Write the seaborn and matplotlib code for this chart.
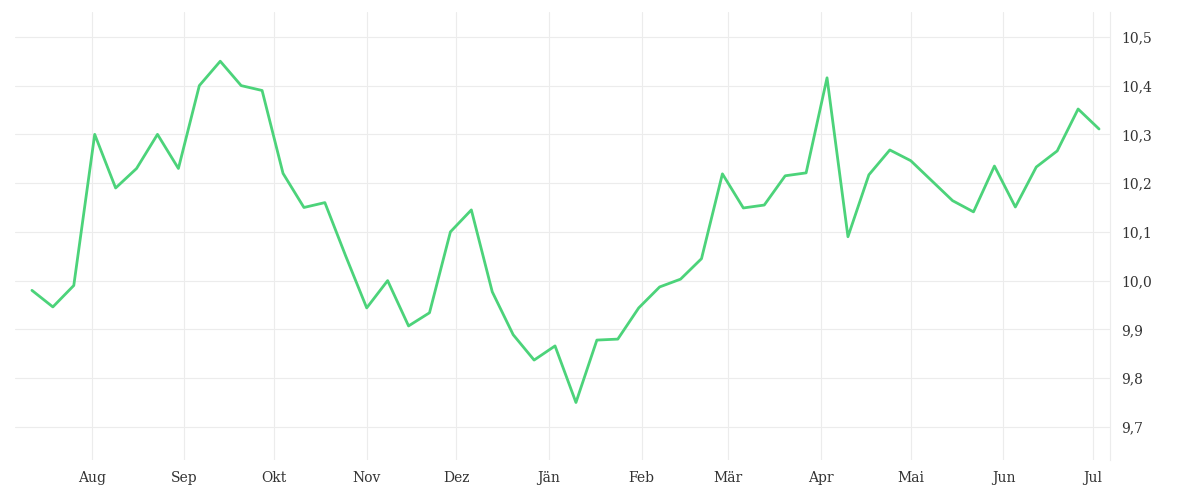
import matplotlib
matplotlib.use("Agg")
import matplotlib.pyplot as plt
import matplotlib.dates as mdates
import seaborn as sns
import pandas as pd

values = [9.98, 9.946, 9.99, 10.30, 10.19, 10.23, 10.30, 10.23, 10.40, 10.45,
          10.40, 10.39, 10.22, 10.15, 10.16, 10.05, 9.944, 10.0, 9.907, 9.934,
          10.10, 10.145, 9.977, 9.889, 9.837, 9.866, 9.75, 9.878, 9.88, 9.944,
          9.987, 10.003, 10.045, 10.219, 10.149, 10.155, 10.215, 10.221, 10.416, 10.09,
          10.217, 10.268, 10.246, 10.205, 10.164, 10.141, 10.235, 10.151, 10.233, 10.266,
          10.352, 10.311]
dates = pd.date_range("2023-07-12", periods=len(values), freq="7D")
month_labels = ["Aug", "Sep", "Okt", "Nov", "Dez", "Jän", "Feb", "Mär", "Apr", "Mai", "Jun", "Jul"]
month_ticks = pd.date_range("2023-08-01", periods=12, freq="MS")
y_ticks = [9.7, 9.8, 9.9, 10.0, 10.1, 10.2, 10.3, 10.4, 10.5]

sns.set_style("white")
plt.rcParams['font.family'] = ['DejaVu Serif']
fig = plt.figure(figsize=(12, 5), dpi=100)
ax = fig.add_axes([15/1200, 0.08, 1095/1200, 0.896])
df = pd.DataFrame({"date": dates, "value": values})
sns.lineplot(data=df, x="date", y="value", ax=ax, color="#4cd37a", linewidth=2)
ax.set_xlim(pd.Timestamp("2023-07-06 08:00"), pd.Timestamp("2024-07-06 16:00"))
ax.set_ylim(9.632, 10.551)
ax.set_xticks(month_ticks)
ax.set_xticklabels(month_labels)
ax.set_yticks(y_ticks)
ax.set_yticklabels([f"{v:.1f}".replace(".", ",") for v in y_ticks])
ax.yaxis.tick_right()
ax.tick_params(length=0, labelsize=10, colors="#333333", pad=8)
ax.grid(True, color="#ececec", linewidth=0.8)
for s in ["top", "left", "bottom"]:
    ax.spines[s].set_visible(False)
ax.spines["right"].set_color("#ececec")
ax.set_xlabel("")
ax.set_ylabel("")
fig.savefig("out.png", dpi=100)
